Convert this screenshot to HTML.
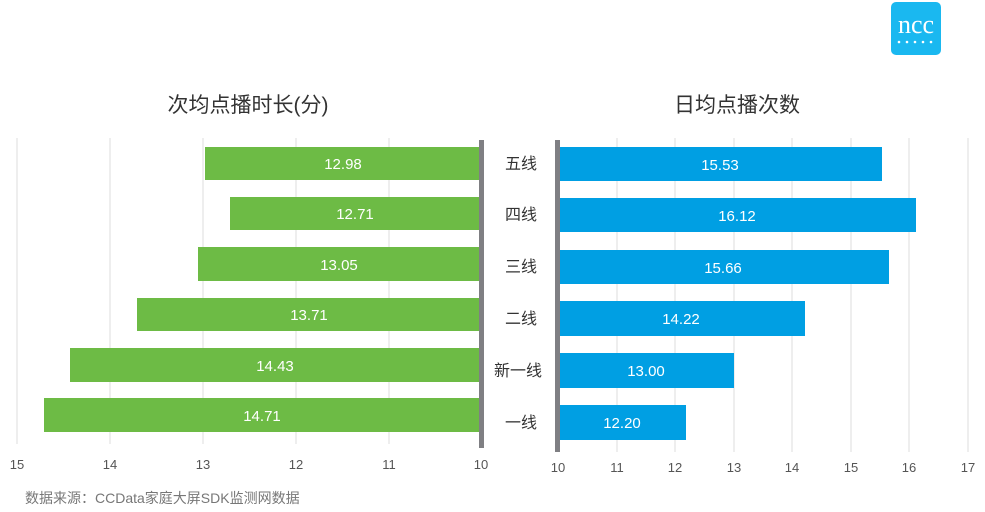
<!DOCTYPE html>
<html><head><meta charset="utf-8"><style>
body{margin:0;background:#fff;}
svg{display:block;font-family:"Liberation Sans","Noto Sans CJK SC",sans-serif;}
</style></head><body>
<svg width="985" height="512" viewBox="0 0 985 512" xmlns="http://www.w3.org/2000/svg">
<rect x="891" y="2" width="50" height="53" rx="5" fill="#1ab8f0"/>
<text x="916" y="33" fill="#fff" font-family="Liberation Serif,serif" font-size="26" text-anchor="middle">ncc</text>
<g fill="#fff"><circle cx="899" cy="42" r="1.3"/><circle cx="907" cy="42" r="1.3"/><circle cx="915" cy="42" r="1.3"/><circle cx="923" cy="42" r="1.3"/><circle cx="931" cy="42" r="1.3"/></g>
<text x="248" y="112" font-size="21" fill="#333" text-anchor="middle">次均点播时长(分)</text>
<text x="737" y="112" font-size="21" fill="#333" text-anchor="middle">日均点播次数</text>
<g stroke="#ddd" stroke-width="1">
<line x1="17" y1="138" x2="17" y2="444"/><line x1="110" y1="138" x2="110" y2="444"/><line x1="203" y1="138" x2="203" y2="444"/><line x1="296" y1="138" x2="296" y2="444"/><line x1="389" y1="138" x2="389" y2="444"/>
<line x1="617" y1="138" x2="617" y2="452"/><line x1="675" y1="138" x2="675" y2="452"/><line x1="734" y1="138" x2="734" y2="452"/><line x1="792" y1="138" x2="792" y2="452"/><line x1="851" y1="138" x2="851" y2="452"/><line x1="909" y1="138" x2="909" y2="452"/><line x1="968" y1="138" x2="968" y2="452"/>
</g>
<g fill="#6dbb45">
<rect x="205" y="147" width="276" height="33"/><rect x="230" y="197" width="251" height="33"/><rect x="198" y="247" width="283" height="34"/><rect x="137" y="298" width="344" height="33"/><rect x="70" y="348" width="411" height="34"/><rect x="44" y="398" width="437" height="34"/>
</g>
<g fill="#fff" font-size="15" text-anchor="middle">
<text x="343" y="169">12.98</text><text x="355" y="219">12.71</text><text x="339" y="270">13.05</text><text x="309" y="320">13.71</text><text x="275" y="371">14.43</text><text x="262" y="421">14.71</text>
</g>
<g fill="#009fe3">
<rect x="558" y="147" width="324" height="34"/><rect x="558" y="198" width="358" height="34"/><rect x="558" y="250" width="331" height="34"/><rect x="558" y="301" width="247" height="35"/><rect x="558" y="353" width="176" height="35"/><rect x="558" y="405" width="128" height="35"/>
</g>
<g fill="#fff" font-size="15" text-anchor="middle">
<text x="720" y="170">15.53</text><text x="737" y="221">16.12</text><text x="723" y="273">15.66</text><text x="681" y="324">14.22</text><text x="646" y="376">13.00</text><text x="622" y="428">12.20</text>
</g>
<rect x="479" y="140" width="5" height="308" fill="#7f7f83"/>
<rect x="555" y="140" width="5" height="312" fill="#7f7f83"/>
<g font-size="16" fill="#333" text-anchor="middle">
<text x="521" y="169">五线</text><text x="521" y="220">四线</text><text x="521" y="272">三线</text><text x="521" y="324">二线</text><text x="518" y="376">新一线</text><text x="521" y="428">一线</text>
</g>
<g font-size="13" fill="#555" text-anchor="middle">
<text x="17" y="469">15</text><text x="110" y="469">14</text><text x="203" y="469">13</text><text x="296" y="469">12</text><text x="389" y="469">11</text><text x="481" y="469">10</text>
<text x="558" y="472">10</text><text x="617" y="472">11</text><text x="675" y="472">12</text><text x="734" y="472">13</text><text x="792" y="472">14</text><text x="851" y="472">15</text><text x="909" y="472">16</text><text x="968" y="472">17</text>
</g>
<text x="25" y="503" font-size="14" fill="#777">数据来源：CCData家庭大屏SDK监测网数据</text>
</svg>
</body></html>
